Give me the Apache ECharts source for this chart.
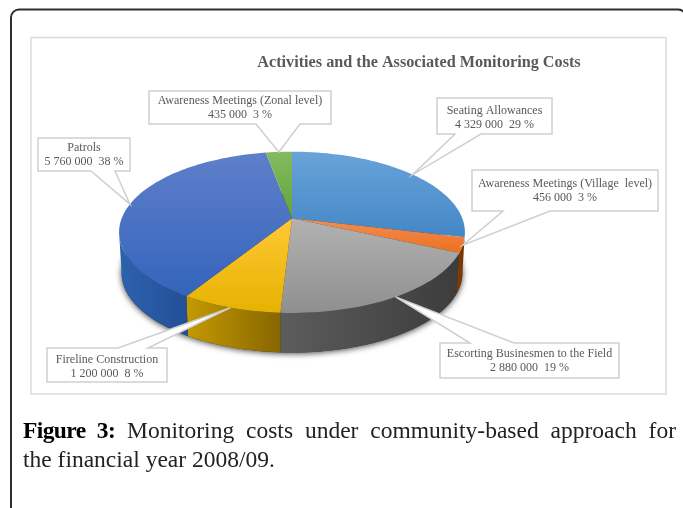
<!DOCTYPE html>
<html>
<head>
<meta charset="utf-8">
<title>Monitoring costs</title>
<script src="https://cdn.jsdelivr.net/npm/echarts@6/dist/echarts.min.js"></script>
<style>
html, body { margin: 0; padding: 0; background: #fff; overflow: hidden; }
#main { position: absolute; left: 0; top: 0; width: 683px; height: 508px; }
#caption {
    position: absolute; left: 23px; top: 416px; width: 653px;
    font-family: "Liberation Serif", serif; font-size: 23.5px; line-height: 28.5px;
    color: #222;
}
#caption div:first-child { text-align: justify; text-align-last: justify; }
#caption b { color: #000; letter-spacing: -0.6px; }
</style>
</head>
<body>
<div id="main"></div>
<div id="caption"><div><b>Figure 3:</b> Monitoring costs under community-based approach for</div><div>the financial year 2008/09.</div></div>
<script>
// data, clockwise from 12 o'clock
const names = ['Seating Allowances', 'Awareness Meetings (Village  level)', 'Escorting Businesmen to the Field',
    'Fireline Construction', 'Patrols', 'Awareness Meetings (Zonal level)'];
const costs = [4329000, 456000, 2880000, 1200000, 5760000, 435000];
const percents = [29, 3, 19, 8, 38, 3];

// colours per slice: top face [upper, lower], side wall [left, right]
const topColors = [['#69a3d9', '#4487c6'], ['#f28f55', '#ec6f1e'], ['#b2b2b2', '#8f8f8f'],
    ['#ffc835', '#e6b200'], ['#5f7fca', '#3464bc'], ['#82ba62', '#64a536']];
const wallColors = [['#2f6da6', '#2f6da6'], ['#8a3f08', '#6e3000'], ['#5c5c5c', '#3c3c3c'],
    ['#c49a00', '#876600'], ['#2d62ae', '#234f96'], ['#4f7f2a', '#4f7f2a']];

// callout boxes: x0, y0, x1, y1, tail base left/right, edge the tail leaves from, text centre
const boxes = [
    { x0: 437, y0: 98, x1: 552, y1: 134, t0: 455, t1: 481, edge: 'bottom', ty: 117.5 },
    { x0: 472, y0: 170, x1: 658, y1: 211, t0: 503, t1: 550, edge: 'bottom', ty: 191 },
    { x0: 440, y0: 343, x1: 619, y1: 378, t0: 470, t1: 514, edge: 'top', ty: 361 },
    { x0: 47, y0: 348, x1: 167, y1: 382, t0: 118, t1: 148, edge: 'top', ty: 366.5 },
    { x0: 38, y0: 138, x1: 130, y1: 171, t0: 91, t1: 115, edge: 'bottom', ty: 155 },
    { x0: 149, y0: 91, x1: 331, y1: 124, t0: 256, t1: 300, edge: 'bottom', ty: 108 }
];

// pie seen in perspective: apex, radii, tilt
const cx = 292, cy = 218.3, A = 170.3, B = 78.2, K = 0.174;
const depth = 41, bottomScale = 0.985;
const total = costs.reduce((a, b) => a + b, 0);

// screen position of a rim point, phi in degrees clockwise from top
function rim(phi, level) {
    const r = phi * Math.PI / 180;
    const u = Math.sin(r), v = Math.cos(r);
    const s = level ? bottomScale : 1;
    return [cx + s * A * u / (1 + K * v), cy - s * B * v / (1 + K * v) + (level ? depth : 0)];
}

function arc(from, to, level) {
    const pts = [];
    const n = Math.max(2, Math.ceil(Math.abs(to - from) / 2));
    for (let i = 0; i <= n; i++) pts.push(rim(from + (to - from) * i / n, level));
    return pts;
}

function sliceAngles(i) {
    let before = 0;
    for (let j = 0; j < i; j++) before += costs[j];
    return [before / total * 360, (before + costs[i]) / total * 360];
}

function grad(x2, y2, pair) {
    return new echarts.graphic.LinearGradient(0, 0, x2, y2, [
        { offset: 0, color: pair[0] }, { offset: 1, color: pair[1] }
    ]);
}

function renderShadow() {
    return {
        type: 'polygon',
        shape: { points: arc(0, 360, 1) },
        style: { fill: '#333', shadowBlur: 6, shadowColor: 'rgba(0,0,0,0.75)', shadowOffsetY: 1 }
    };
}

function renderWall(params) {
    const i = params.dataIndex;
    const a = sliceAngles(i);
    const from = Math.max(a[0], 100), to = Math.min(a[1], 260);
    if (to <= from) return null;
    return {
        type: 'polygon',
        shape: { points: arc(from, to, 0).concat(arc(to, from, 1)) },
        style: { fill: grad(1, 0, wallColors[i]) }
    };
}

function renderTop(params) {
    const i = params.dataIndex;
    const a = sliceAngles(i);
    return {
        type: 'polygon',
        shape: { points: [[cx, cy]].concat(arc(a[0], a[1], 0)) },
        style: { fill: grad(0, 1, topColors[i]) }
    };
}

function renderCallout(params) {
    const i = params.dataIndex;
    const b = boxes[i];
    const a = sliceAngles(i);
    const tip = rim((a[0] + a[1]) / 2, 0);
    const pts = [[b.x0, b.y0]];
    if (b.edge === 'top') pts.push([b.t0, b.y0], tip, [b.t1, b.y0]);
    pts.push([b.x1, b.y0], [b.x1, b.y1]);
    if (b.edge === 'bottom') pts.push([b.t1, b.y1], tip, [b.t0, b.y1]);
    pts.push([b.x0, b.y1]);
    const amount = String(costs[i]).replace(/\B(?=(\d{3})+$)/g, ' ');
    return {
        type: 'group',
        children: [{
            type: 'polygon',
            shape: { points: pts },
            style: { fill: '#fff', stroke: '#cfcfcf', lineWidth: 1.5 }
        }, {
            type: 'text',
            style: {
                x: (b.x0 + b.x1) / 2, y: b.ty,
                text: names[i] + '\n' + amount + '  ' + percents[i] + ' %',
                align: 'center', verticalAlign: 'middle', lineHeight: 14,
                fontFamily: 'Liberation Serif', fontSize: 12, fill: '#595959'
            }
        }]
    };
}

const chart = echarts.init(document.getElementById('main'), null, { renderer: 'canvas' });
chart.setOption({
    animation: false,
    backgroundColor: '#fff',
    title: {
        text: 'Activities and the Associated Monitoring Costs',
        left: 414, top: 50, textAlign: 'center',
        textStyle: { fontFamily: 'Liberation Serif', fontSize: 16.2, fontWeight: 'bold', color: '#595959' }
    },
    graphic: [
        { type: 'rect', z: -1, shape: { x: 11, y: 9.5, width: 675, height: 520, r: 8 },
          style: { fill: '#fff', stroke: '#2e2e2e', lineWidth: 2 } },
        { type: 'rect', z: -1, shape: { x: 31, y: 37.5, width: 635, height: 356.5 },
          style: { fill: '#fff', stroke: '#dcdcdc', lineWidth: 1.5 } }
    ],
    series: [
        { type: 'custom', coordinateSystem: 'none', silent: true, z: 1, data: [0], renderItem: renderShadow },
        { type: 'custom', coordinateSystem: 'none', silent: true, z: 2, data: costs, renderItem: renderWall },
        { type: 'custom', coordinateSystem: 'none', silent: true, z: 3, data: costs, renderItem: renderTop },
        { type: 'custom', coordinateSystem: 'none', silent: true, z: 4, data: costs, renderItem: renderCallout }
    ]
});
</script>
</body>
</html>
